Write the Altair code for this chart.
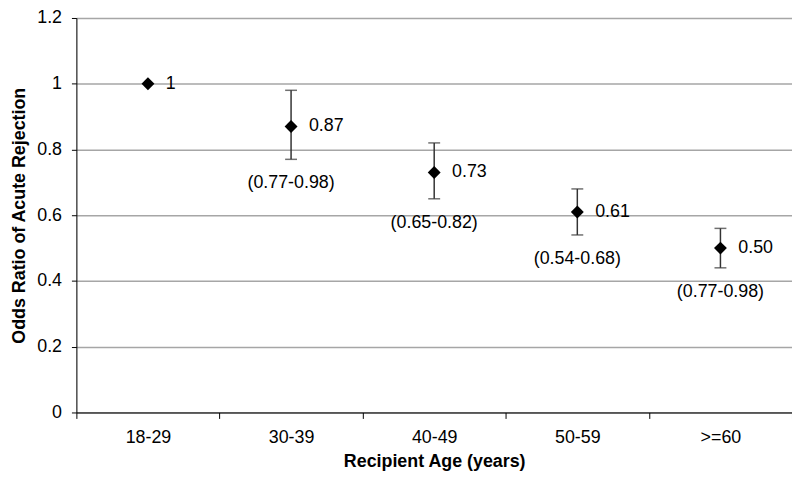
import altair as alt
import pandas as pd

ages = ["18-29", "30-39", "40-49", "50-59", ">=60"]
odds = [1.0, 0.87, 0.73, 0.61, 0.50]
lower = [None, 0.77, 0.65, 0.54, 0.44]
upper = [None, 0.98, 0.82, 0.68, 0.56]
value_labels = ["1", "0.87", "0.73", "0.61", "0.50"]
ci_labels = ["", "(0.77-0.98)", "(0.65-0.82)", "(0.54-0.68)", "(0.77-0.98)"]
y_ticks = [0, 0.2, 0.4, 0.6, 0.8, 1.0, 1.2]

df = pd.DataFrame({
    "age": ages, "odds": odds, "lower": lower, "upper": upper,
    "vlabel": value_labels, "cilabel": ci_labels,
})

FONT = "Liberation Sans"

x = alt.X("age:N", sort=ages, scale=alt.Scale(paddingInner=0, paddingOuter=0),
          axis=alt.Axis(title="Recipient Age (years)", labelAngle=0, tickBand="extent",
                        labelFontSize=18, titleFontSize=18, titleFontWeight="bold",
                        labelPadding=10, titlePadding=7, tickSize=6,
                        domainColor="black", tickColor="black", labelColor="black",
                        titleColor="black", labelFont=FONT, titleFont=FONT, grid=False))
y_scale = alt.Scale(domain=[0, 1.2], nice=False)
y_axis = alt.Axis(title="Odds Ratio of Acute Rejection", values=y_ticks, format=".1~f",
                  labelFontSize=18, titleFontSize=18, titleFontWeight="bold",
                  labelPadding=10, tickSize=5, titlePadding=8,
                  domainColor="black", tickColor="black", labelColor="black",
                  titleColor="black", labelFont=FONT, titleFont=FONT,
                  grid=True, gridColor="#a6a6a6", gridWidth=1.5)

base = alt.Chart(df)

bars = base.transform_filter("datum.lower != null").mark_rule(
    color="#333333", strokeWidth=1.5
).encode(x=x, y=alt.Y("lower:Q", scale=y_scale, axis=y_axis), y2="upper:Q")

cap_lo = base.transform_filter("datum.lower != null").mark_tick(
    color="#333333", thickness=1.5, size=12, orient="horizontal"
).encode(x=x, y=alt.Y("lower:Q", scale=y_scale))

cap_hi = base.transform_filter("datum.lower != null").mark_tick(
    color="#333333", thickness=1.5, size=12, orient="horizontal"
).encode(x=x, y=alt.Y("upper:Q", scale=y_scale))

points = base.mark_point(shape="diamond", filled=True, color="black", size=170, opacity=1).encode(
    x=x, y=alt.Y("odds:Q", scale=y_scale)
)

vtext = base.mark_text(align="left", baseline="middle", dx=18, fontSize=18, font=FONT,
                       color="black").encode(
    x=x, y=alt.Y("odds:Q", scale=y_scale), text="vlabel:N"
)

citext = base.transform_filter("datum.lower != null").mark_text(
    align="center", baseline="middle", dy=24, fontSize=18, font=FONT, color="black"
).encode(x=x, y=alt.Y("lower:Q", scale=y_scale), text="cilabel:N")

chart = alt.layer(bars, cap_lo, cap_hi, points, vtext, citext).properties(
    width=722, height=398,
    autosize=alt.AutoSizeParams(type="none"),
    padding={"left": 69, "top": 8, "right": 0, "bottom": 59},
).configure_view(stroke=None).configure(background="white")

chart.save("out.html", embed_options={"renderer": "svg", "actions": False})
